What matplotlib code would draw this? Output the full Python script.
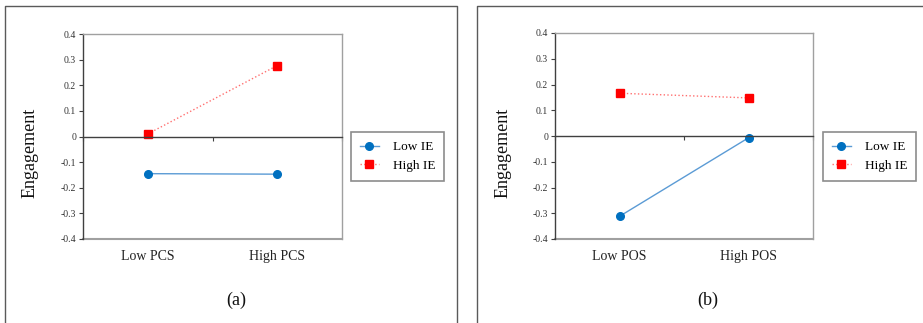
import matplotlib.pyplot as plt
from matplotlib.lines import Line2D

# data
panel_labels = ["(a)", "(b)"]
categories = [["Low PCS", "High PCS"], ["Low POS", "High POS"]]
low_ie = [[-0.145, -0.147], [-0.312, -0.007]]
high_ie = [[0.010, 0.277], [0.166, 0.148]]
series_names = ["Low IE", "High IE"]
yticks = [-0.4, -0.3, -0.2, -0.1, 0, 0.1, 0.2, 0.3, 0.4]
ytick_labels = ["-0.4", "-0.3", "-0.2", "-0.1", "0", "0.1", "0.2", "0.3", "0.4"]

plt.rcParams['font.family'] = ['Liberation Serif', 'DejaVu Serif']

W, H = 923, 323
fig = plt.figure(figsize=(W / 100, H / 100), dpi=100)


def fx(px):
    return px / W


def fy(py):
    return 1 - py / H


# pixel layout of the two panels
axes_px = [(83, 34, 342, 239), (555, 33, 813, 239)]
legend_px = [(351, 156.5), (823, 156.5)]
ylabel_px = [(30, 152.5), (503, 152.5)]
panel_px = [(236, 300), (708, 300)]

# outer frames
frame_col = "#5a5a5a"
fig.add_artist(Line2D([fx(4.5), fx(4.5), fx(457), fx(457)], [0, fy(5.5), fy(5.5), 0],
                      color=frame_col, lw=1.0))
fig.add_artist(Line2D([fx(477), fx(477), 1.0], [0, fy(5.5), fy(5.5)],
                      color=frame_col, lw=1.0))

for i in range(2):
    x0, y0, x1, y1 = axes_px[i]
    ax = fig.add_axes([fx(x0), fy(y1), fx(x1 - x0), (y1 - y0) / H])
    ax.plot([0, 1], low_ie[i], color="#5b9bd5", lw=1.0, marker="o", ms=5.5,
            mfc="#0070c0", mec="#0070c0", label=series_names[0])
    ax.plot([0, 1], high_ie[i], color="#ff7070", lw=1.0, ls=":", marker="s", ms=5.5,
            mfc="#ff0000", mec="#ff0000", label=series_names[1])
    ax.set_xlim(-0.5, 1.5)
    ax.set_ylim(-0.4, 0.4)

    # plot area border
    for s in ["top", "right"]:
        ax.spines[s].set_color("#a0a0a0")
        ax.spines[s].set_linewidth(1.0)
    ax.spines["left"].set_color("#404040")
    ax.spines["left"].set_linewidth(1.0)
    ax.spines["bottom"].set_position(("data", 0))
    ax.spines["bottom"].set_color("#404040")
    ax.spines["bottom"].set_linewidth(1.0)
    ax.axhline(-0.4, color="#a0a0a0", lw=1.5, clip_on=False, zorder=0)

    ax.set_yticks(yticks)
    ax.set_yticklabels(ytick_labels)
    ax.tick_params(axis="y", direction="out", length=3, width=0.8, color="#404040",
                   labelsize=7, pad=2, labelcolor="#333333")
    ax.set_xticks([-0.5, 0.5, 1.5])
    ax.set_xticklabels([])
    ax.tick_params(axis="x", direction="out", length=3, width=0.8, color="#404040")

    for j, c in enumerate(categories[i]):
        ax.annotate(c, xy=(j, 0), xycoords=("data", "axes fraction"),
                    xytext=(0, -12.5), textcoords="offset points",
                    ha="center", va="center", fontsize=10, color="#222222")

    lx, ly = legend_px[i]
    leg = ax.legend(loc="center left", bbox_to_anchor=(fx(lx), fy(ly)),
                    bbox_transform=fig.transFigure, fontsize=9.5, numpoints=1,
                    fancybox=False, frameon=True, handlelength=1.5,
                    borderpad=0.65, labelspacing=0.5, handletextpad=1.0,
                    borderaxespad=0)
    leg.get_frame().set_edgecolor("#707070")
    leg.get_frame().set_linewidth(1.2)

    tx, ty = ylabel_px[i]
    fig.text(fx(tx), fy(ty), "Engagement", rotation=90, ha="center", va="center",
             fontsize=13, color="#111111")
    px, py = panel_px[i]
    fig.text(fx(px), fy(py), panel_labels[i], ha="center", va="center",
             fontsize=13, color="#111111")

fig.savefig("out.png", dpi=100)
